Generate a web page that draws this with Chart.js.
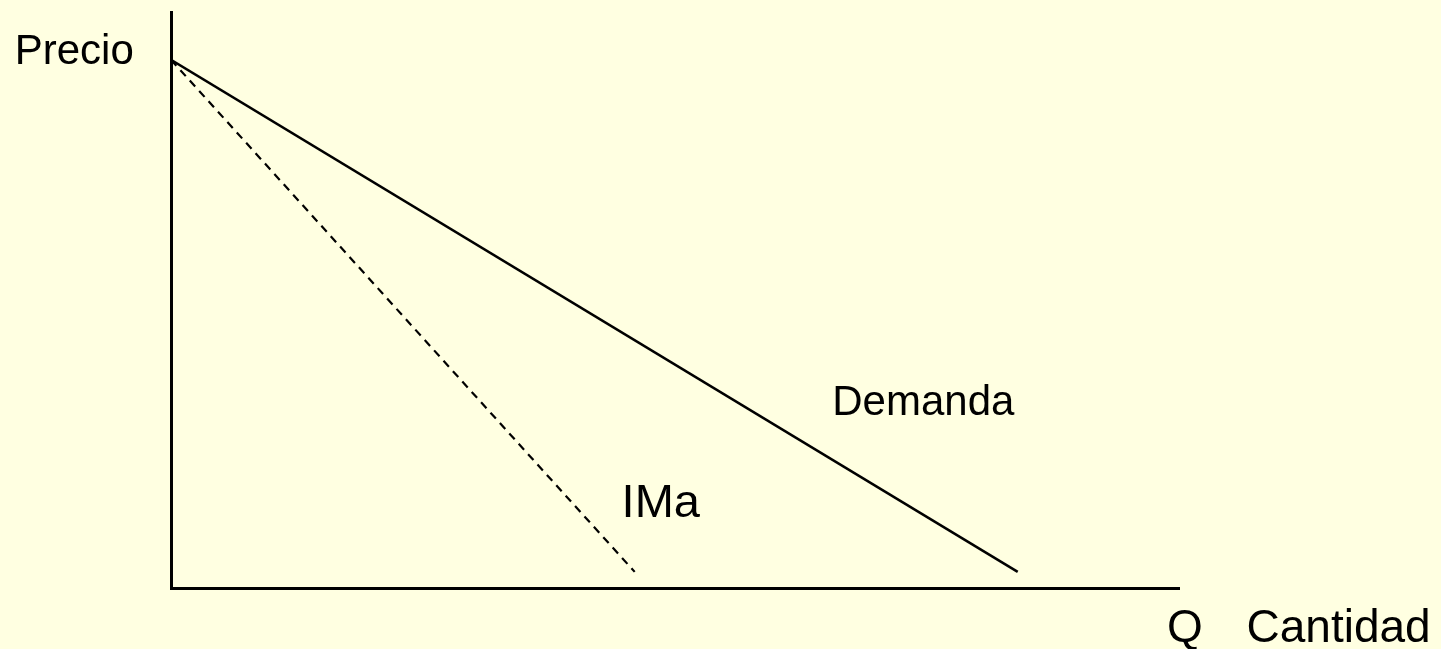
<!DOCTYPE html>
<html>
<head>
<meta charset="utf-8">
<script src="https://cdn.jsdelivr.net/npm/chart.js@4"></script>
<style>
    html, body { margin: 0; padding: 0; background: #FFFFE1; }
    #wrap { width: 1441px; height: 649px; position: relative; }
</style>
</head>
<body>
<div id="wrap"><canvas id="graficoDemanda"></canvas></div>
<script>
// valores (unidades de los ejes 0..100)
const demandaQ = [0, 84];
const demandaP = [91.7, 2.8];
const imaQ = [0, 46];
const imaP = [91.7, 2.8];

// textos del grafico
const textos = ['Precio', 'Demanda', 'IMa', 'Q', 'Cantidad'];
const textosX = [-15.5, 65.6, 44.7, 98.8, 106.7];
const textosY = [91.0, 30.0, 12.3, -9.4, -9.4];
const textosTam = [42, 42, 47, 46, 46];

var ctx = document.getElementById('graficoDemanda').getContext('2d');

const pluginTextos = {
    id: 'textos',
    afterDatasetsDraw(chart) {
        const c = chart.ctx;
        const sx = chart.scales.x, sy = chart.scales.y;
        c.save();
        c.fillStyle = '#000';
        c.textAlign = 'left';
        c.textBaseline = 'alphabetic';
        for (let i = 0; i < textos.length; i++) {
            c.font = textosTam[i] + 'px "Liberation Sans", Arial, sans-serif';
            c.fillText(textos[i], sx.getPixelForValue(textosX[i]), sy.getPixelForValue(textosY[i]));
        }
        c.restore();
    }
};

new Chart(ctx, {
    type: 'scatter',
    data: {
        datasets: [
            {
                label: 'Demanda',
                data: demandaQ.map((q, i) => ({ x: q, y: demandaP[i] })),
                showLine: true,
                borderColor: '#000',
                borderWidth: 2.5,
                pointRadius: 0
            },
            {
                label: 'IMa',
                data: imaQ.map((q, i) => ({ x: q, y: imaP[i] })),
                showLine: true,
                borderColor: '#000',
                borderWidth: 2.2,
                borderDash: [8, 6],
                pointRadius: 0
            }
        ]
    },
    options: {
        responsive: true,
        maintainAspectRatio: false,
        animation: false,
        layout: {
            padding: { left: 163, top: 12, right: 262, bottom: 53 }
        },
        scales: {
            x: {
                type: 'linear',
                min: 0,
                max: 100,
                grid: { display: false },
                ticks: { display: false },
                border: { display: true, color: '#000', width: 3 }
            },
            y: {
                type: 'linear',
                min: 0,
                max: 100,
                grid: { display: false },
                ticks: { display: false },
                border: { display: true, color: '#000', width: 3 }
            }
        },
        plugins: {
            legend: { display: false },
            tooltip: { enabled: false }
        }
    },
    plugins: [pluginTextos]
});
</script>
</body>
</html>
